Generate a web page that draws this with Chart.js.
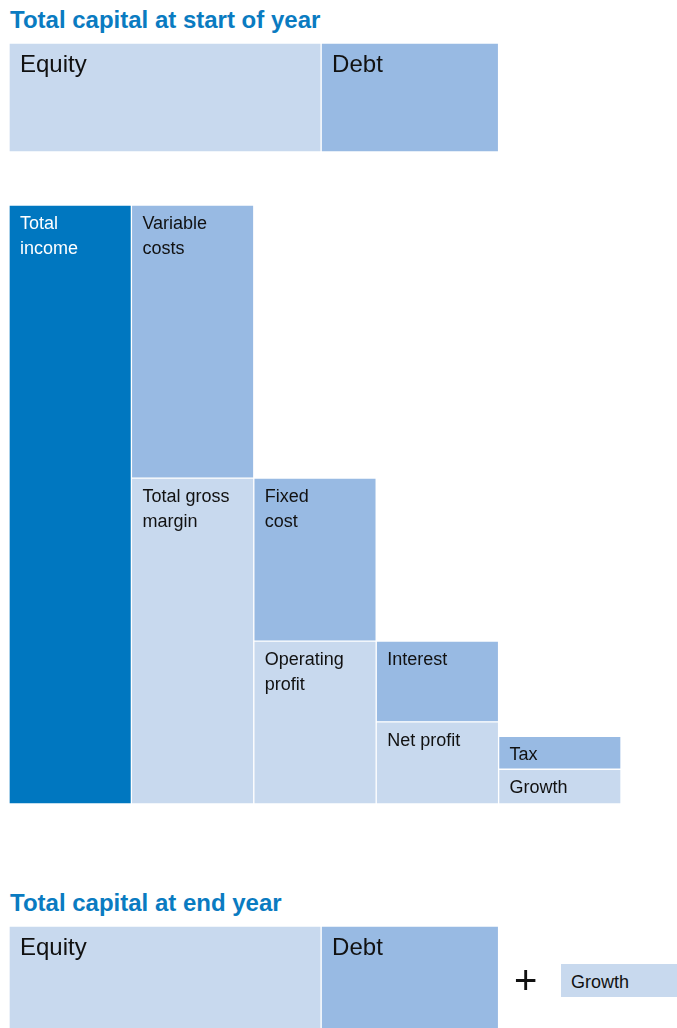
<!DOCTYPE html>
<html>
<head>
<meta charset="utf-8">
<script src="https://cdn.jsdelivr.net/npm/chart.js@4"></script>
<style>
  html, body { margin: 0; padding: 0; background: #fff; }
  body { position: relative; width: 677px; height: 1028px; overflow: hidden; font-family: 'Liberation Sans', Arial, sans-serif; }
  .title { position: absolute; left: 10px; font-size: 24px; line-height: 24px; font-weight: bold; color: #0a7bc1; white-space: nowrap; }
  .box { position: absolute; }
  canvas { display: block; }
  #plus { position: absolute; left: 514px; top: 956px; font-size: 40px; line-height: 48px; color: #111; }
  #growthChip { position: absolute; left: 561px; top: 964px; width: 116px; height: 33px; background: #c8d9ee; }
  #growthChip span { position: absolute; left: 10px; top: 9px; font-size: 18px; line-height: 18px; color: #111; }
</style>
</head>
<body>
<div class="title" style="top:8px">Total capital at start of year</div>
<div class="box" style="left:0;top:40px;width:677px;height:115px"><canvas id="startChart"></canvas></div>
<div class="box" style="left:0;top:200px;width:677px;height:610px"><canvas id="flowChart"></canvas></div>
<div class="title" style="top:891px">Total capital at end year</div>
<div class="box" style="left:0;top:920px;width:677px;height:115px"><canvas id="endChart"></canvas></div>
<div id="plus">+</div>
<div id="growthChip"><span>Growth</span></div>

<script>
const DARK = '#0077c0';
const LIGHT = '#c8d9ee';
const MID = '#98bae3';
const FONT = "'Liberation Sans', Arial, sans-serif";

// capital split (same for start and end of year)
const capitalLabels = ['Equity', 'Debt'];
const equityValue = [51];
const debtValue = [29];

// income breakdown, one column per step
const steps = ['Total income', 'Total gross margin', 'Operating profit', 'Net profit', 'Growth'];
const lowerValues = [100, 54.4, 27.2, 13.7, 5.8];
const lowerLabels = [['Total', 'income'], ['Total gross', 'margin'], ['Operating', 'profit'], ['Net profit'], ['Growth']];
const upperValues = [0, 45.6, 27.2, 13.5, 5.5];
const upperLabels = [[], ['Variable', 'costs'], ['Fixed', 'cost'], ['Interest'], ['Tax']];

// writes each segment's name in its top-left corner
const segmentText = {
    id: 'segmentText',
    afterDatasetsDraw(chart, args, opts) {
        const ctx = chart.ctx;
        ctx.save();
        ctx.font = opts.size + 'px ' + FONT;
        ctx.textBaseline = 'alphabetic';
        ctx.textAlign = 'left';
        chart.data.datasets.forEach((ds, di) => {
            const meta = chart.getDatasetMeta(di);
            meta.data.forEach((el, i) => {
                const lines = ds.segmentLabels[i] || [];
                if (!lines.length) return;
                const p = el.getProps(['x', 'y', 'base', 'width', 'height', 'horizontal'], true);
                let left, top;
                if (p.horizontal) {
                    left = Math.min(p.x, p.base);
                    top = p.y - p.height / 2;
                } else {
                    left = p.x - p.width / 2;
                    top = Math.min(p.y, p.base);
                }
                ctx.fillStyle = (ds.textColors && ds.textColors[i]) || '#111';
                lines.forEach((line, li) => {
                    ctx.fillText(line, left + opts.dx, top + opts.dy + li * opts.lineHeight);
                });
            });
        });
        ctx.restore();
    }
};

function capitalChart(id, padTop) {
    return new Chart(document.getElementById(id), {
        type: 'bar',
        data: {
            labels: ['Capital'],
            datasets: [
                { label: capitalLabels[0], data: equityValue, backgroundColor: LIGHT, segmentLabels: [[capitalLabels[0]]] },
                { label: capitalLabels[1], data: debtValue, backgroundColor: MID, segmentLabels: [[capitalLabels[1]]] }
            ].map(ds => Object.assign(ds, {
                borderColor: '#fff', borderWidth: 1, borderSkipped: false,
                barPercentage: 1, categoryPercentage: 1, clip: false
            }))
        },
        options: {
            indexAxis: 'y',
            responsive: true,
            maintainAspectRatio: false,
            animation: false,
            layout: { padding: { left: 9, right: 56, top: padTop, bottom: 3 } },
            scales: {
                x: { stacked: true, min: 0, max: 100, display: false },
                y: { stacked: true, display: false }
            },
            plugins: {
                legend: { display: false },
                tooltip: { enabled: false },
                segmentText: { size: 24, dx: 11, dy: 29, lineHeight: 28 }
            }
        },
        plugins: [segmentText]
    });
}

capitalChart('startChart', 3);
capitalChart('endChart', 6);

new Chart(document.getElementById('flowChart'), {
    type: 'bar',
    data: {
        labels: steps,
        datasets: [
            {
                label: 'Remaining',
                data: lowerValues,
                backgroundColor: [DARK, LIGHT, LIGHT, LIGHT, LIGHT],
                textColors: ['#fff', '#111', '#111', '#111', '#111'],
                segmentLabels: lowerLabels
            },
            {
                label: 'Deducted',
                data: upperValues,
                backgroundColor: MID,
                segmentLabels: upperLabels
            }
        ].map(ds => Object.assign(ds, {
            borderColor: '#fff', borderWidth: 1, borderSkipped: false,
            barPercentage: 1, categoryPercentage: 1, clip: false
        }))
    },
    options: {
        responsive: true,
        maintainAspectRatio: false,
        animation: false,
        layout: { padding: { left: 9, right: 56, top: 5, bottom: 6 } },
        scales: {
            x: { stacked: true, display: false },
            y: { stacked: true, min: 0, max: 100, display: false }
        },
        plugins: {
            legend: { display: false },
            tooltip: { enabled: false },
            segmentText: { size: 18, dx: 11, dy: 24, lineHeight: 25 }
        }
    },
    plugins: [segmentText]
});
</script>
</body>
</html>
